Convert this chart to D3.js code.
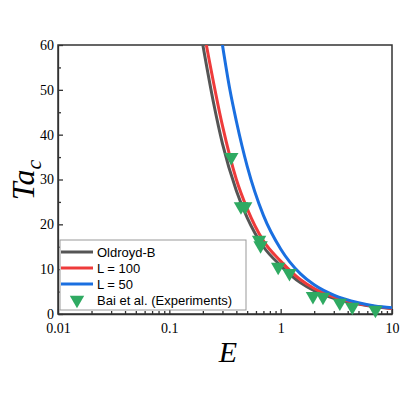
<!DOCTYPE html><html><head><script src="https://cdn.jsdelivr.net/npm/d3@7"></script>
<style>body{margin:0;background:#fff} .tick text{font-family:"Liberation Serif","Times New Roman",serif !important;font-size:14px}</style></head><body><svg id="c" width="400" height="400"></svg><script>
const oldE=[0.2,0.25,0.3,0.4,0.5,0.7,1,1.5,2,3,5,7,10];
const oldT=[60,47,38,27.5,21.5,15,10.8,7,5.2,3.5,2.2,1.6,1.2];
const l100E=[0.215,0.3,0.4,0.5,0.7,1,1.5,2,3,5,7,10];
const l100T=[60,42,30,23.5,16.3,11.8,7.7,5.7,3.8,2.3,1.7,1.2];
const l50E=[0.3,0.35,0.4,0.5,0.7,1,1.5,2,3,5,7,10];
const l50T=[60,50,43,33,22,14.5,9,6.5,4.2,2.5,1.8,1.4];
const expE=[0.36,0.44,0.48,0.64,0.66,0.95,1.2,1.95,2.4,3.4,4.4,7.1];
const expT=[35,24,24,16.5,15.3,10.5,9.1,4,3.8,2.5,1.6,0.9];
const xTicks=[0.01,0.1,1,10], yTicks=[0,10,20,30,40,50,60];
const svg=d3.select("#c");
const L=58,R=392,T=45,B=314;
const x=d3.scaleLog().domain([0.01,10]).range([L,R]);
const y=d3.scaleLinear().domain([0,60]).range([B,T]);
svg.append("defs").append("clipPath").attr("id","cp").append("rect").attr("x",L).attr("y",T).attr("width",R-L).attr("height",B-T);
const minor=[];for(let d=0.01;d<10;d*=10)for(let k=2;k<10;k++)minor.push(d*k);
svg.append("g").attr("transform",`translate(0,${B})`).call(d3.axisBottom(x).tickValues(xTicks).tickFormat(d=>String(d)).tickSizeInner(-5).tickSizeOuter(0).tickPadding(9));
svg.append("g").attr("transform",`translate(0,${B})`).call(d3.axisBottom(x).tickValues(minor).tickFormat("").tickSizeInner(-3).tickSizeOuter(0)).select(".domain").remove();
svg.append("g").attr("transform",`translate(${L},0)`).call(d3.axisLeft(y).tickValues(yTicks).tickSizeInner(-5).tickSizeOuter(0).tickPadding(4));
svg.append("g").attr("transform",`translate(${L},0)`).call(d3.axisLeft(y).tickValues(d3.range(5,60,10)).tickFormat("").tickSizeInner(-3).tickSizeOuter(0)).select(".domain").remove();
svg.selectAll(".tick text").attr("fill","#000");
svg.selectAll(".domain,.tick line").attr("stroke","#333").attr("stroke-width",1.3);
svg.append("rect").attr("x",L).attr("y",T).attr("width",R-L).attr("height",B-T).attr("fill","none").attr("stroke","#333").attr("stroke-width",1.5);
const line=d3.line().x(d=>x(d[0])).y(d=>y(d[1])).curve(d3.curveMonotoneX);
const g=svg.append("g").attr("clip-path","url(#cp)");
[[oldE,oldT,"#555"],[l100E,l100T,"#ee3b3b"],[l50E,l50T,"#1a6fe0"]].forEach(([e,t,c])=>{
 g.append("path").attr("d",line(e.map((v,i)=>[v,t[i]]))).attr("fill","none").attr("stroke",c).attr("stroke-width",3);});
const tri=d3.symbol().type(d3.symbolTriangle).size(90);
svg.selectAll(".m").data(expE.map((v,i)=>[v,expT[i]])).join("path").attr("d",tri).attr("fill","#2faa62")
 .attr("transform",d=>`translate(${x(d[0])},${y(d[1])}) rotate(180)`);
const lg=svg.append("g");
lg.append("rect").attr("x",60).attr("y",240).attr("width",186).attr("height",70).attr("fill","#fff").attr("stroke","#999");
const items=[["Oldroyd-B","#555"],["L = 100","#ee3b3b"],["L = 50","#1a6fe0"],["Bai et al. (Experiments)","#2faa62"]];
items.forEach(([t,c],i)=>{const yy=252+i*16;
 if(i<3)lg.append("line").attr("x1",61).attr("x2",93).attr("y1",yy).attr("y2",yy).attr("stroke",c).attr("stroke-width",3);
 else lg.append("path").attr("d",tri).attr("fill",c).attr("transform",`translate(77,${yy}) rotate(180)`);
 lg.append("text").attr("x",97).attr("y",yy+5).text(t).attr("font-family","Liberation Sans").attr("font-size",13);});
svg.append("text").attr("transform","translate(34,180) rotate(-90)").attr("text-anchor","middle").attr("font-family","Liberation Serif").attr("font-style","italic").attr("font-size",32).html('Ta<tspan font-size="22" dy="7">c</tspan>');
svg.append("text").attr("x",228).attr("y",362).attr("text-anchor","middle").attr("font-family","Liberation Serif").attr("font-style","italic").attr("font-size",30).text("E");
</script></body></html>
